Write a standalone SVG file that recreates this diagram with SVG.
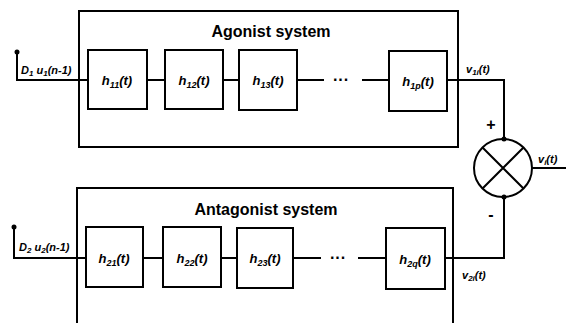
<svg xmlns="http://www.w3.org/2000/svg" width="566" height="323" viewBox="0 0 566 323">
  <style>
    .frame { fill: none; stroke: #000; stroke-width: 2; }
    .blk { fill: #fff; stroke: #000; stroke-width: 2; }
    .wire { fill: none; stroke: #000; stroke-width: 2; }
    .title { font-family: "Liberation Sans", Arial, sans-serif; font-weight: bold; font-size: 16px; text-anchor: middle; }
    .lbl { font-family: "Liberation Sans", Arial, sans-serif; font-weight: bold; font-style: italic; font-size: 13px; text-anchor: middle; }
    .sig { font-family: "Liberation Sans", Arial, sans-serif; font-weight: bold; font-style: italic; font-size: 11px; }
    .sgn { font-family: "Liberation Sans", Arial, sans-serif; font-weight: bold; font-size: 16px; text-anchor: middle; }
    .dots { font-family: "Liberation Sans", Arial, sans-serif; font-weight: bold; font-size: 16px; text-anchor: middle; }
  </style>
  <rect width="566" height="323" fill="#fff"/>

  <!-- agonist system -->
  <g id="agonist">
    <path class="frame" d="M79,148 V11 H458 V147 H79"/>
    <text class="title" x="271" y="37">Agonist system</text>
  </g>
  <g id="h11"><rect class="blk" x="88" y="50" width="59" height="59"/><text class="lbl" x="117" y="85">h<tspan font-size="9" dy="3">11</tspan><tspan dy="-3">(t)</tspan></text></g>
  <g id="h12"><rect class="blk" x="165" y="50" width="58" height="59"/><text class="lbl" x="194" y="85">h<tspan font-size="9" dy="3">12</tspan><tspan dy="-3">(t)</tspan></text></g>
  <g id="h13"><rect class="blk" x="239" y="50" width="58" height="60"/><text class="lbl" x="268" y="85">h<tspan font-size="9" dy="3">13</tspan><tspan dy="-3">(t)</tspan></text></g>
  <g id="h1p"><rect class="blk" x="389" y="51" width="58" height="60"/><text class="lbl" x="418" y="86">h<tspan font-size="9" dy="3">1p</tspan><tspan dy="-3">(t)</tspan></text></g>

  <!-- antagonist system -->
  <g id="antagonist">
    <path class="frame" d="M77,324 V188 H453 V324"/>
    <text class="title" x="266" y="215">Antagonist system</text>
  </g>
  <g id="h21"><rect class="blk" x="86" y="227" width="57" height="60"/><text class="lbl" x="114" y="263">h<tspan font-size="9" dy="3">21</tspan><tspan dy="-3">(t)</tspan></text></g>
  <g id="h22"><rect class="blk" x="163" y="227" width="58" height="60"/><text class="lbl" x="192" y="263">h<tspan font-size="9" dy="3">22</tspan><tspan dy="-3">(t)</tspan></text></g>
  <g id="h23"><rect class="blk" x="237" y="228" width="56" height="60"/><text class="lbl" x="265" y="263">h<tspan font-size="9" dy="3">23</tspan><tspan dy="-3">(t)</tspan></text></g>
  <g id="h2q"><rect class="blk" x="386" y="228" width="59" height="61"/><text class="lbl" x="415" y="264">h<tspan font-size="9" dy="3">2q</tspan><tspan dy="-3">(t)</tspan></text></g>

  <!-- summing junction -->
  <g id="sum">
    <circle class="wire" cx="503" cy="168" r="29"/>
    <path class="wire" d="M482.5,147.5 L523.5,188.5 M523.5,147.5 L482.5,188.5"/>
    <text class="sgn" x="491" y="130">+</text>
    <text class="sgn" x="491" y="220">-</text>
  </g>

  <g id="connectors">
    <!-- agonist chain -->
    <circle cx="17" cy="52" r="2.5"/>
    <path class="wire" d="M17,52 V80 M16,80 H88 M147,80 H165 M223,80 H239 M297,80 H324 M362,80 H389"/>
    <text class="dots" x="341" y="85">···</text>
    <path class="wire" d="M447,80 H504 V139"/>
    <circle cx="504" cy="139" r="2.5"/>
    <!-- antagonist chain -->
    <circle cx="14" cy="227" r="2.5"/>
    <path class="wire" d="M14,227 V258 M13,258 H86 M143,258 H163 M221,258 H237 M293,258 H321 M358,258 H386"/>
    <text class="dots" x="338" y="263">···</text>
    <path class="wire" d="M445,258 H504 V197"/>
    <circle cx="504" cy="197" r="2.5"/>
    <!-- summed output -->
    <path class="wire" d="M532,168 H566"/>
  </g>

  <!-- signal labels -->
  <text class="sig" x="21" y="74">D<tspan font-size="8" dy="2">1</tspan><tspan dy="-2"> u</tspan><tspan font-size="8" dy="2">1</tspan><tspan dy="-2">(n-1)</tspan></text>
  <text class="sig" x="19" y="251">D<tspan font-size="8" dy="2">2</tspan><tspan dy="-2"> u</tspan><tspan font-size="8" dy="2">2</tspan><tspan dy="-2">(n-1)</tspan></text>
  <text class="sig" x="466" y="73">v<tspan font-size="8" dy="2">1i</tspan><tspan dy="-2">(t)</tspan></text>
  <text class="sig" x="462" y="279">v<tspan font-size="8" dy="2">2i</tspan><tspan dy="-2">(t)</tspan></text>
  <text class="sig" x="538" y="163">v<tspan font-size="8" dy="2">i</tspan><tspan dy="-2">(t)</tspan></text>
</svg>
